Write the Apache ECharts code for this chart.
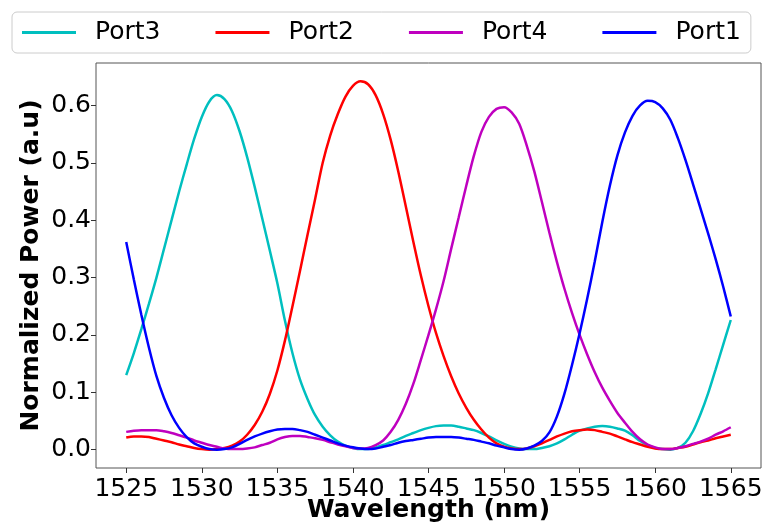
<!doctype html>
<html>
    <head>
        <meta charset="utf-8">
        <title>Port power vs wavelength</title>
        <style>
            html, body { margin: 0; padding: 0; background: #fff; }
            #main { width: 764px; height: 525px; }
        </style>
    </head>
    <body>
        <div id="main"></div>
        <script src="https://cdn.jsdelivr.net/npm/echarts@6/dist/echarts.min.js"></script>
        <script>

            // wavelength samples (nm), 0.5 nm step, 1525 .. 1565
            var wavelength = [];
            for (var w = 1525; w <= 1565; w += 0.5) {
                wavelength.push(w);
            }

            var port3 = [0.130, 0.168, 0.210, 0.254, 0.300, 0.350, 0.400, 0.450, 0.497, 0.542,
                         0.580, 0.607, 0.618, 0.611, 0.590, 0.555, 0.510, 0.458, 0.403, 0.347,
                         0.290, 0.225, 0.168, 0.122, 0.088, 0.060, 0.040, 0.025, 0.014, 0.007,
                         0.003, 0.001, 0.001, 0.004, 0.008, 0.013, 0.018, 0.024, 0.029, 0.034,
                         0.038, 0.041, 0.042, 0.042, 0.040, 0.037, 0.034, 0.029, 0.023, 0.016,
                         0.010, 0.005, 0.002, 0.001, 0.001, 0.003, 0.006, 0.011, 0.018, 0.026,
                         0.033, 0.037, 0.040, 0.041, 0.040, 0.037, 0.033, 0.025, 0.015, 0.008,
                         0.003, 0.001, 0.000, 0.003, 0.012, 0.032, 0.062, 0.098, 0.140, 0.183,
                         0.226];

            var port2 = [0.021, 0.023, 0.023, 0.022, 0.019, 0.016, 0.013, 0.009, 0.006, 0.003,
                         0.001, 0.000, 0.001, 0.003, 0.007, 0.014, 0.026, 0.043, 0.066, 0.097,
                         0.138, 0.190, 0.250, 0.312, 0.375, 0.437, 0.500, 0.548, 0.585, 0.615,
                         0.634, 0.642, 0.637, 0.618, 0.585, 0.540, 0.485, 0.424, 0.362, 0.303,
                         0.250, 0.203, 0.163, 0.128, 0.098, 0.073, 0.052, 0.035, 0.021, 0.011,
                         0.005, 0.002, 0.001, 0.002, 0.006, 0.011, 0.017, 0.023, 0.028, 0.032,
                         0.034, 0.035, 0.034, 0.031, 0.028, 0.023, 0.018, 0.013, 0.009, 0.005,
                         0.002, 0.001, 0.001, 0.003, 0.005, 0.009, 0.013, 0.016, 0.020, 0.023,
                         0.026];

            var port4 = [0.031, 0.033, 0.034, 0.034, 0.034, 0.032, 0.029, 0.025, 0.021, 0.016,
                         0.012, 0.008, 0.005, 0.002, 0.001, 0.001, 0.002, 0.004, 0.008, 0.012,
                         0.018, 0.022, 0.024, 0.024, 0.022, 0.020, 0.017, 0.013, 0.009, 0.006,
                         0.003, 0.002, 0.003, 0.008, 0.016, 0.031, 0.052, 0.080, 0.115, 0.157,
                         0.200, 0.245, 0.294, 0.350, 0.405, 0.460, 0.512, 0.554, 0.580, 0.594,
                         0.597, 0.588, 0.568, 0.530, 0.485, 0.432, 0.378, 0.327, 0.280, 0.238,
                         0.200, 0.166, 0.135, 0.108, 0.085, 0.064, 0.047, 0.031, 0.018, 0.009,
                         0.004, 0.001, 0.001, 0.003, 0.006, 0.010, 0.014, 0.019, 0.026, 0.032,
                         0.039];

            var port1 = [0.362, 0.297, 0.235, 0.178, 0.128, 0.090, 0.060, 0.038, 0.022, 0.011,
                         0.005, 0.001, 0.000, 0.001, 0.004, 0.010, 0.017, 0.023, 0.028, 0.032,
                         0.035, 0.036, 0.036, 0.034, 0.031, 0.026, 0.021, 0.016, 0.011, 0.007,
                         0.004, 0.002, 0.001, 0.002, 0.005, 0.008, 0.012, 0.015, 0.017, 0.019,
                         0.021, 0.022, 0.022, 0.022, 0.021, 0.019, 0.017, 0.014, 0.011, 0.007,
                         0.004, 0.001, 0.000, 0.002, 0.007, 0.015, 0.030, 0.058, 0.098, 0.148,
                         0.203, 0.263, 0.328, 0.397, 0.460, 0.513, 0.553, 0.582, 0.600, 0.608,
                         0.606, 0.595, 0.575, 0.543, 0.505, 0.463, 0.420, 0.377, 0.332, 0.284,
                         0.232];

            var xTicks = [1525, 1530, 1535, 1540, 1545, 1550, 1555, 1560, 1565];
            var yTicks = [0, 0.1, 0.2, 0.3, 0.4, 0.5, 0.6];

            var seriesNames = ['Port3', 'Port2', 'Port4', 'Port1'];
            var seriesValues = [port3, port2, port4, port1];
            var seriesColors = ['#00bfbf', '#ff0000', '#bf00bf', '#0000ff'];

            var font = 'DejaVu Sans';

            function pairs(values) {
                return wavelength.map(function (w, i) {
                    return [w, values[i]];
                });
            }

            var myChart = echarts.init(document.getElementById('main'), null, {renderer: 'canvas'});

            myChart.setOption({
                animation: false,
                backgroundColor: '#fff',
                textStyle: {fontFamily: font},
                legend: {
                    left: 12,
                    top: 12,
                    padding: [8, 10],
                    icon: 'rect',
                    itemWidth: 54,
                    itemHeight: 3,
                    itemGap: 55,
                    borderColor: '#cccccc',
                    borderWidth: 1,
                    borderRadius: 5,
                    textStyle: {
                        fontFamily: font,
                        fontSize: 25,
                        color: '#000',
                        padding: [0, 0, 0, 14]
                    },
                    data: seriesNames
                },
                grid: {
                    left: 96,
                    right: 3,
                    top: 63,
                    bottom: 57,
                    show: true,
                    borderColor: '#555',
                    borderWidth: 1,
                    containLabel: false,
                    outerBoundsMode: 'none'
                },
                xAxis: {
                    type: 'value',
                    min: 1523,
                    max: 1567,
                    name: 'Wavelength (nm)',
                    nameLocation: 'middle',
                    nameGap: 30,
                    nameMoveOverlap: false,
                    nameTextStyle: {fontFamily: font, fontSize: 25, fontWeight: 'bold', color: '#000'},
                    axisLine: {show: false, onZero: false},
                    axisTick: {show: true, length: 5, lineStyle: {color: '#333'}, customValues: xTicks},
                    axisLabel: {
                        fontFamily: font,
                        fontSize: 25,
                        color: '#000',
                        margin: 9,
                        customValues: xTicks,
                        formatter: function (v) { return String(v); }
                    },
                    splitLine: {show: false}
                },
                yAxis: {
                    type: 'value',
                    min: -0.032,
                    max: 0.674,
                    name: 'Normalized Power (a.u)',
                    nameLocation: 'middle',
                    nameGap: 52,
                    nameMoveOverlap: false,
                    nameTextStyle: {fontFamily: font, fontSize: 25, fontWeight: 'bold', color: '#000'},
                    axisLine: {show: false, onZero: false},
                    axisTick: {show: true, length: 5, lineStyle: {color: '#333'}, customValues: yTicks},
                    axisLabel: {
                        fontFamily: font,
                        fontSize: 25,
                        color: '#000',
                        margin: 5,
                        customValues: yTicks,
                        formatter: function (v) { return v.toFixed(1); }
                    },
                    splitLine: {show: false}
                },
                series: seriesNames.map(function (name, k) {
                    return {
                        type: 'line',
                        name: name,
                        data: pairs(seriesValues[k]),
                        smooth: 0.3,
                        symbol: 'none',
                        showSymbol: false,
                        color: seriesColors[k],
                        lineStyle: {width: 2.5, color: seriesColors[k]}
                    };
                })
            });

        </script>
    </body>
</html>
